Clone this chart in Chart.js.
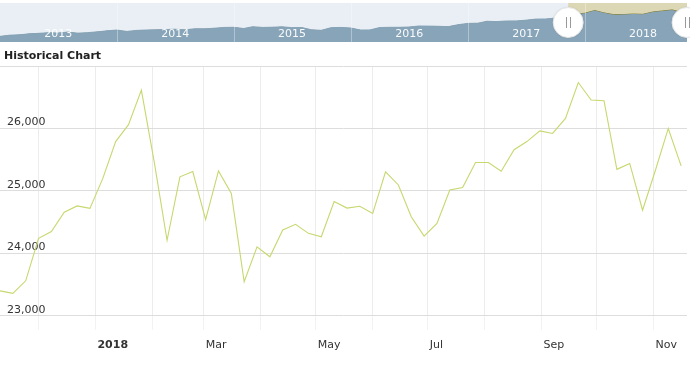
<!DOCTYPE html>
<html><head><meta charset="utf-8">
<script src="https://cdn.jsdelivr.net/npm/chart.js@4.4.1/dist/chart.umd.min.js"></script>
<style>
html,body{margin:0;padding:0;background:#fff;width:690px;height:367px;overflow:hidden;}
#main{position:absolute;left:0;top:0;width:690px;height:367px;}
#nav{position:absolute;left:0;top:0;width:690px;height:44px;}
#title{position:absolute;left:4px;top:49px;font:bold 11px "DejaVu Sans";line-height:13px;color:#222;white-space:nowrap;}
</style></head><body>
<div id="main"><canvas id="mainCanvas"></canvas></div>
<div id="nav"><canvas id="navCanvas"></canvas></div>
<div id="title">Historical Chart</div>
<script>
// ---- main chart data (weekly) ----
const weekDates = [
 '2017-11-10','2017-11-17','2017-11-24','2017-12-01','2017-12-08','2017-12-15','2017-12-22','2017-12-29',
 '2018-01-05','2018-01-12','2018-01-19','2018-01-26','2018-02-02','2018-02-09','2018-02-16','2018-02-23',
 '2018-03-02','2018-03-09','2018-03-16','2018-03-23','2018-03-30','2018-04-06','2018-04-13','2018-04-20',
 '2018-04-27','2018-05-04','2018-05-11','2018-05-18','2018-05-25','2018-06-01','2018-06-08','2018-06-15',
 '2018-06-22','2018-06-29','2018-07-06','2018-07-13','2018-07-20','2018-07-27','2018-08-03','2018-08-10',
 '2018-08-17','2018-08-24','2018-08-31','2018-09-07','2018-09-14','2018-09-21','2018-09-28','2018-10-05',
 '2018-10-12','2018-10-19','2018-10-26','2018-11-02','2018-11-09','2018-11-16'];
const weekValues = [
 23400,23360,23560,24240,24350,24660,24760,24720,
 25200,25790,26060,26615,25465,24210,25225,25310,
 24540,25320,24960,23545,24105,23945,24375,24465,
 24320,24265,24830,24725,24755,24640,25305,25095,
 24585,24275,24480,25015,25055,25455,25455,25315,
 25660,25790,25960,25920,26160,26735,26455,26445,
 25345,25440,24690,25330,26000,25400];
const monthTicks = ['2017-12-01','2018-01-01','2018-02-01','2018-03-01','2018-04-01','2018-05-01',
 '2018-06-01','2018-07-01','2018-08-01','2018-09-01','2018-10-01','2018-11-01'];
const monthLabels = ['','2018','','Mar','','May','','Jul','','Sep','','Nov'];
const yTicks = [23000,24000,25000,26000,27000];

// ---- navigator data (monthly) ----
const navDates = [
 '2013-01-01','2013-02-01','2013-03-01','2013-04-01','2013-05-01','2013-06-01','2013-07-01','2013-08-01','2013-09-01','2013-10-01','2013-11-01','2013-12-01',
 '2014-01-01','2014-02-01','2014-03-01','2014-04-01','2014-05-01','2014-06-01','2014-07-01','2014-08-01','2014-09-01','2014-10-01','2014-11-01','2014-12-01',
 '2015-01-01','2015-02-01','2015-03-01','2015-04-01','2015-05-01','2015-06-01','2015-07-01','2015-08-01','2015-09-01','2015-10-01','2015-11-01','2015-12-01',
 '2016-01-01','2016-02-01','2016-03-01','2016-04-01','2016-05-01','2016-06-01','2016-07-01','2016-08-01','2016-09-01','2016-10-01','2016-11-01','2016-12-01',
 '2017-01-01','2017-02-01','2017-03-01','2017-04-01','2017-05-01','2017-06-01','2017-07-01','2017-08-01','2017-09-01','2017-10-01','2017-11-01','2017-12-01',
 '2018-01-01','2018-02-01','2018-03-01','2018-04-01','2018-05-01','2018-06-01','2018-07-01','2018-08-01','2018-09-01','2018-10-01','2018-11-01','2018-11-16'];
const navValues = [
 13300,13900,14050,14550,14800,15100,14950,15450,14900,15150,15550,16050,
 16450,15750,16250,16450,16550,16700,16850,16600,17050,17050,17350,17750,
 17800,17200,18100,17750,17850,18050,17650,17700,16550,16300,17650,17750,
 17450,16450,16500,17700,17800,17800,17950,18450,18400,18300,18150,19100,
 19750,19850,20800,20650,20950,21000,21350,21900,21950,22400,23350,24250,
 24800,26150,25000,24100,24150,24400,24250,25400,25950,26450,25100,25400];
const navYears = ['2013','2014','2015','2016','2017','2018'];

function day(s){const p=s.split('-').map(Number);return Date.UTC(p[0],p[1]-1,p[2])/86400000;}
function fmt(v){return String(v).replace(/\B(?=(\d{3})+(?!\d))/g,',');}

const F = 'DejaVu Sans';
const xMin = day(weekDates[0]);
const xMax = xMin + 374.2;

new Chart(document.getElementById('mainCanvas'), {
  type:'line',
  data:{datasets:[{
    data: weekDates.map((d,i)=>({x:day(d), y:weekValues[i]})),
    borderColor:'#c6d86e', borderWidth:1.1, pointRadius:0, tension:0, fill:false
  }]},
  options:{
    responsive:true, maintainAspectRatio:false, animation:false,
    layout:{padding:{top:66,bottom:6,left:0,right:3}},
    plugins:{legend:{display:false}, tooltip:{enabled:false}},
    scales:{
      x:{type:'linear', min:xMin, max:xMax,
        afterBuildTicks: s => { s.ticks = monthTicks.map((d,i)=>({value:day(d), major: monthLabels[i]==='2018'})); },
        grid:{color:'#ececec', tickColor:'#f2f2f2', tickLength:14, lineWidth:1},
        border:{display:false},
        ticks:{autoSkip:false, maxRotation:0, minRotation:0, align:'start', labelOffset:2, padding:9, color:'#333',
          font: c => ({family:F, size:11, weight: (c.tick && c.tick.major) ? 'bold' : 'normal'}),
          callback:(v,i)=>monthLabels[i]}
      },
      y:{min:yTicks[0], max:yTicks[yTicks.length-1],
        afterBuildTicks: s => { s.ticks = yTicks.map(v=>({value:v})); },
        afterFit: s => { s.width = 0; },
        ticks:{mirror:true, padding:7, labelOffset:-6, color:'#333', font:{family:F,size:11},
          callback: v => v===yTicks[yTicks.length-1] ? '' : fmt(v)},
        grid:{color:'#dddddd', drawTicks:false}, border:{display:false}}
    }
  }
});

// ---- navigator ----
const navStart = day('2013-01-01');
const navEnd = day(navDates[navDates.length-1]);
const selStart = day(weekDates[0]);
const navPts = navDates.map((d,i)=>({x:day(d), y:navValues[i]}));
const navPlugin = {
  id:'navDeco',
  beforeDatasetsDraw(chart){
    const {ctx, chartArea:a, scales:{x}} = chart;
    const xs = x.getPixelForValue(selStart);
    ctx.save();
    ctx.fillStyle = '#e9eff5';
    ctx.fillRect(a.left, a.top, a.right-a.left, a.bottom-a.top);
    ctx.fillStyle = '#dcd8b6';
    ctx.fillRect(xs, a.top, a.right-xs, a.bottom-a.top);
    ctx.restore();
  },
  beforeDatasetDraw(chart, args){
    const {ctx, chartArea:a, scales:{x}} = chart;
    const xs = x.getPixelForValue(selStart);
    ctx.save();
    ctx.beginPath();
    if (args.index === 0) ctx.rect(a.left, a.top-5, xs-a.left, a.bottom-a.top+10);
    else ctx.rect(xs, a.top-5, a.right-xs+5, a.bottom-a.top+10);
    ctx.clip();
  },
  afterDatasetDraw(chart){ chart.ctx.restore(); },
  afterDatasetsDraw(chart){
    const {ctx, chartArea:a, scales:{x}} = chart;
    ctx.save();
    ctx.strokeStyle = 'rgba(255,255,255,0.35)';
    ctx.lineWidth = 1;
    navYears.forEach((y,i)=>{
      if (i===0) return;
      const px = Math.round(x.getPixelForValue(day(y+'-01-01')))+0.5;
      ctx.beginPath(); ctx.moveTo(px, a.top); ctx.lineTo(px, a.bottom); ctx.stroke();
    });
    ctx.fillStyle = 'rgba(255,255,255,0.95)';
    ctx.font = '11px "DejaVu Sans"';
    ctx.textAlign = 'center';
    ctx.textBaseline = 'alphabetic';
    navYears.forEach(y=>{
      const px = x.getPixelForValue(day(y+'-07-02'));
      ctx.fillText(y, px, 37);
    });
    const cy = (a.top + a.bottom)/2;
    [x.getPixelForValue(selStart), x.getPixelForValue(navEnd)].forEach(px=>{
      ctx.beginPath();
      ctx.arc(px, cy, 15, 0, Math.PI*2);
      ctx.fillStyle = '#ffffff';
      ctx.shadowColor = 'rgba(0,0,0,0.15)';
      ctx.shadowBlur = 2;
      ctx.fill();
      ctx.shadowBlur = 0;
      ctx.strokeStyle = '#e6e6e6';
      ctx.stroke();
      ctx.strokeStyle = '#999999';
      ctx.beginPath();
      ctx.moveTo(Math.round(px)-1.5, cy-5.5); ctx.lineTo(Math.round(px)-1.5, cy+5.5);
      ctx.moveTo(Math.round(px)+2.5, cy-5.5); ctx.lineTo(Math.round(px)+2.5, cy+5.5);
      ctx.stroke();
    });
    ctx.restore();
  }
};
new Chart(document.getElementById('navCanvas'), {
  type:'line',
  data:{datasets:[
    {data:navPts, borderColor:'#87a4b9', backgroundColor:'#87a4b9', fill:'start', borderWidth:1, pointRadius:0, tension:0},
    {data:navPts, borderColor:'#837c2b', backgroundColor:'#837c2b', fill:'start', borderWidth:1, pointRadius:0, tension:0}
  ]},
  options:{
    responsive:true, maintainAspectRatio:false, animation:false,
    layout:{padding:{top:3,bottom:2,left:0,right:3}},
    plugins:{legend:{display:false}, tooltip:{enabled:false}},
    scales:{
      x:{type:'linear', display:false, min:navStart, max:navEnd},
      y:{display:false, min:10500, max:29900}
    }
  },
  plugins:[navPlugin]
});
</script>
</body></html>
